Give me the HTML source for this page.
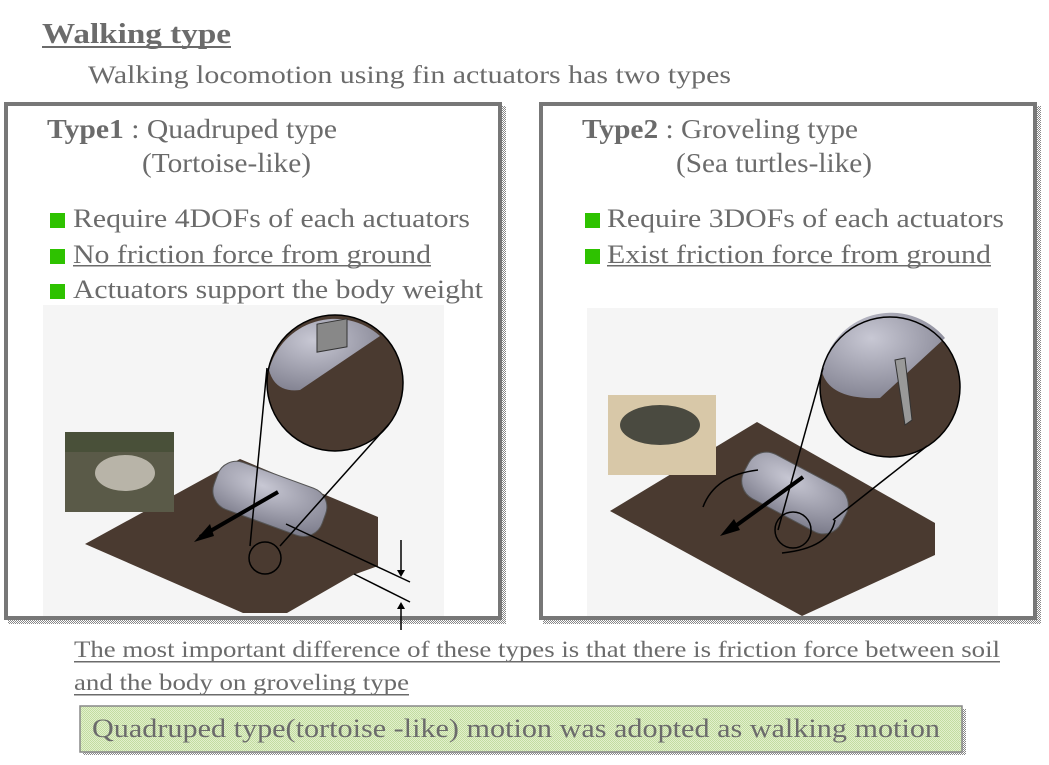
<!DOCTYPE html>
<html><head><meta charset="utf-8"><style>
html,body{margin:0;padding:0;background:#fff;}
svg{display:block;}
text{font-family:"Liberation Serif",serif;fill:#6b6b6b;}
</style></head><body>
<svg width="1049" height="765" viewBox="0 0 1049 765" xmlns="http://www.w3.org/2000/svg">
<defs>
<pattern id="dots" width="2" height="2" patternUnits="userSpaceOnUse"><rect width="2" height="2" fill="#fff"/><rect width="1" height="1" fill="#888"/><rect x="1" y="1" width="1" height="1" fill="#888"/></pattern>
<pattern id="gdots" width="2" height="2" patternUnits="userSpaceOnUse"><rect width="2" height="2" fill="#e2f0cc"/><rect width="1" height="1" fill="#c2dca0"/><rect x="1" y="1" width="1" height="1" fill="#c2dca0"/></pattern>
<radialGradient id="body" cx="0.4" cy="0.3" r="0.8"><stop offset="0" stop-color="#c8c8d4"/><stop offset="1" stop-color="#7d7d8c"/></radialGradient>
</defs>

<text x="42" y="43" font-size="28" font-weight="bold" textLength="189" lengthAdjust="spacingAndGlyphs">Walking type</text>
<rect x="42" y="46" width="189" height="2" fill="#6b6b6b"/>
<text x="88" y="83" font-size="25" textLength="643" lengthAdjust="spacingAndGlyphs">Walking locomotion using fin actuators has two types</text>

<rect x="8" y="106" width="498" height="518" fill="url(#dots)"/>
<rect x="6" y="104" width="494" height="514" fill="#fff" stroke="#777" stroke-width="4"/>
<rect x="543" y="106" width="498" height="518" fill="url(#dots)"/>
<rect x="541" y="104" width="494" height="514" fill="#fff" stroke="#777" stroke-width="4"/>

<text x="47" y="138" font-size="27" textLength="290" lengthAdjust="spacingAndGlyphs"><tspan font-weight="bold">Type1</tspan> : Quadruped type</text>
<text x="142" y="172" font-size="27" textLength="169" lengthAdjust="spacingAndGlyphs">(Tortoise-like)</text>
<rect x="50" y="213" width="15" height="15" fill="#2ec200"/>
<rect x="50" y="249" width="15" height="15" fill="#2ec200"/>
<rect x="50" y="284" width="15" height="15" fill="#2ec200"/>
<text x="73" y="227" font-size="26" textLength="397" lengthAdjust="spacingAndGlyphs">Require 4DOFs of each actuators</text>
<text x="73" y="263" font-size="26" textLength="358" lengthAdjust="spacingAndGlyphs">No friction force from ground</text>
<rect x="73" y="265" width="358" height="1.5" fill="#6b6b6b"/>
<text x="73" y="298" font-size="26" textLength="410" lengthAdjust="spacingAndGlyphs">Actuators support the body weight</text>

<text x="582" y="138" font-size="27" textLength="276" lengthAdjust="spacingAndGlyphs"><tspan font-weight="bold">Type2</tspan> : Groveling type</text>
<text x="676" y="172" font-size="27" textLength="196" lengthAdjust="spacingAndGlyphs">(Sea turtles-like)</text>
<rect x="585" y="213" width="15" height="15" fill="#2ec200"/>
<rect x="585" y="249" width="15" height="15" fill="#2ec200"/>
<text x="607" y="227" font-size="26" textLength="397" lengthAdjust="spacingAndGlyphs">Require 3DOFs of each actuators</text>
<text x="607" y="263" font-size="26" textLength="384" lengthAdjust="spacingAndGlyphs">Exist friction force from ground</text>
<rect x="607" y="265" width="384" height="1.5" fill="#6b6b6b"/>

<rect x="43" y="305" width="401" height="311" fill="#f5f5f5"/>
<polygon points="85,544 240,459 378,517 378,566 353,575 287,613 243,613" fill="#4a3a30"/>
<rect x="212" y="474" width="115" height="50" rx="20" transform="rotate(20 270 500)" fill="url(#body)" stroke="#555" stroke-width="1"/>
<line x1="278" y1="492" x2="200" y2="537" stroke="#000" stroke-width="4"/>
<polygon points="194,542 210,524 214,536" fill="#000"/>
<circle cx="265" cy="558" r="16" fill="none" stroke="#000" stroke-width="1.5"/>
<circle cx="335" cy="383" r="68" fill="#4a3a30"/>
<path d="M269,370 A68,68 0 0 1 380,336 L300,390 Q275,393 269,370 Z" fill="url(#body)"/>
<rect x="317" y="380" width="30" height="28" fill="#888" stroke="#333" transform="skewY(-10)"/>
<circle cx="335" cy="383" r="68" fill="none" stroke="#000" stroke-width="1.5"/>
<line x1="267" y1="368" x2="250" y2="546" stroke="#000" stroke-width="1.5"/>
<line x1="389" y1="424" x2="280" y2="546" stroke="#000" stroke-width="1.5"/>
<line x1="286" y1="524" x2="410" y2="582" stroke="#000" stroke-width="1.5"/>
<line x1="354" y1="574" x2="410" y2="602" stroke="#000" stroke-width="1.5"/>
<line x1="401" y1="540" x2="401" y2="574" stroke="#000" stroke-width="1.5"/>
<polygon points="397,570 405,570 401,577" fill="#000"/>
<line x1="401" y1="605" x2="401" y2="630" stroke="#000" stroke-width="1.5"/>
<polygon points="397,609 405,609 401,602" fill="#000"/>
<rect x="65" y="432" width="109" height="80" fill="#5a5a48"/>
<ellipse cx="125" cy="473" rx="30" ry="18" fill="#b8b4a8"/>
<rect x="65" y="432" width="109" height="20" fill="#3e4a30" opacity="0.6"/>

<rect x="587" y="308" width="411" height="308" fill="#f5f5f5"/>
<polygon points="610,511 757,422 935,523 935,555 802,616" fill="#4a3a30"/>
<rect x="740" y="468" width="110" height="50" rx="20" transform="rotate(28 795 493)" fill="url(#body)" stroke="#555"/>
<line x1="803" y1="477" x2="730" y2="530" stroke="#000" stroke-width="4"/>
<polygon points="720,536 734,519 740,530" fill="#000"/>
<path d="M703,507 Q715,475 758,470" fill="none" stroke="#000" stroke-width="1.5"/>
<path d="M782,553 Q830,548 835,520" fill="none" stroke="#000" stroke-width="1.5"/>
<circle cx="793" cy="530" r="18" fill="none" stroke="#000" stroke-width="1.5"/>
<circle cx="890" cy="387" r="70" fill="#4a3a30"/>
<path d="M822,372 A70,70 0 0 1 945,338 L880,398 Q830,400 822,372 Z" fill="url(#body)"/>
<polygon points="895,360 905,358 912,420 905,425" fill="#999" stroke="#333"/>
<circle cx="890" cy="387" r="70" fill="none" stroke="#000" stroke-width="1.5"/>
<line x1="823" y1="368" x2="778" y2="530" stroke="#000" stroke-width="1.5"/>
<line x1="927" y1="446" x2="833" y2="520" stroke="#000" stroke-width="1.5"/>
<rect x="608" y="395" width="108" height="80" fill="#d8c8a8"/>
<ellipse cx="660" cy="425" rx="40" ry="20" fill="#4a4a40"/>

<text x="74" y="657" font-size="23" textLength="926" lengthAdjust="spacingAndGlyphs">The most important difference of these types is that there is friction force between soil</text>
<rect x="74" y="661" width="926" height="1.5" fill="#6b6b6b"/>
<text x="74" y="690" font-size="23" textLength="335" lengthAdjust="spacingAndGlyphs">and the body on groveling type</text>
<rect x="74" y="694" width="335" height="1.5" fill="#6b6b6b"/>

<rect x="83" y="709" width="883" height="46" fill="url(#dots)"/>
<rect x="80" y="706" width="882" height="46" fill="url(#gdots)" stroke="#888" stroke-width="1.5"/>
<text x="92" y="737" font-size="26" textLength="848" lengthAdjust="spacingAndGlyphs">Quadruped type(tortoise -like)  motion was adopted as walking motion</text>
</svg>
</body></html>
